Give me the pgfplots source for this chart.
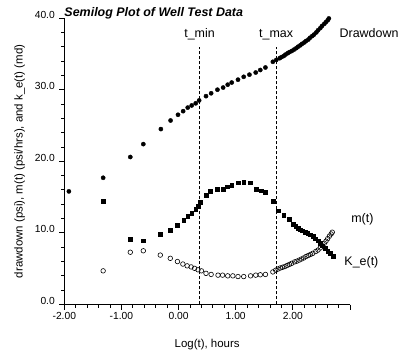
\documentclass[border=0pt]{standalone}
\usepackage{fontspec}
\setmainfont{Liberation Sans}
\usepackage{pgfplots}
\pgfplotsset{compat=1.18}
\begin{document}
\begin{tikzpicture}
\path[use as bounding box] (0,0) rectangle (403bp,356bp);
\begin{axis}[
  at={(64.3bp,51.5bp)}, anchor=south west,
  scale only axis, width=285.7bp, height=286.4bp,
  xmin=-2, xmax=3, ymin=0, ymax=40,
  axis x line*=bottom, axis y line*=left,
  axis line style={line width=1pt},
  xtick={-2,-1,0,1,2}, xticklabels={-2.00,-1.00,0.00,1.00,2.00},
  ytick={0,10,20,30,40}, yticklabels={0.0,10.0,20.0,30.0,40.0},
  major tick length=0pt, minor tick length=0pt,
  ticklabel style={font=\fontsize{10.3}{12}\selectfont},
  xticklabel style={yshift=-4bp},
  yticklabel style={anchor=base east, xshift=-6bp},
  clip=false,
  xlabel={Log(t), hours},
  ylabel={drawdown (psi), m(t) (psi/hrs), and k\_e(t) (md)},
  label style={font=\fontsize{11.5}{13}\selectfont},
  xlabel style={at={(axis description cs:0.5,0)}, anchor=base, yshift=-42.8bp},
  ylabel style={at={(axis description cs:-0.1463,0.5)}, anchor=base},
]
% tick marks
\pgfplotsinvokeforeach{-2,-1,0,1,2,3}{\draw[black, line width=0.9pt] (axis cs:#1,0) -- ++(0pt,-5.5bp);}
\pgfplotsinvokeforeach{-1.8,-1.6,-1.4,-1.2,-0.8,-0.6,-0.4,-0.2,0.2,0.4,0.6,0.8,1.2,1.4,1.6,1.8,2.2,2.4,2.6,2.8}{\draw[black, line width=0.9pt] (axis cs:#1,0) -- ++(0pt,-3.5bp);}
\pgfplotsinvokeforeach{0,10,20,30,40}{\draw[black, line width=0.9pt] (axis cs:-2,#1) -- ++(-5.5bp,0pt);}
\pgfplotsinvokeforeach{2,4,6,8,12,14,16,18,22,24,26,28,32,34,36,38}{\draw[black, line width=0.9pt] (axis cs:-2,#1) -- ++(-3.5bp,0pt);}
% dashed t_min / t_max lines
\addplot[black, dash pattern=on 3bp off 2bp, line width=0.6pt] coordinates {(0.367,0) (0.367,36)};
\addplot[black, dash pattern=on 3bp off 2bp, line width=0.6pt] coordinates {(1.708,0) (1.708,36)};
% Drawdown
\addplot[only marks, mark=*, mark size=2.1bp, black] coordinates {
(-1.92,15.8) (-1.32,17.7) (-0.845,20.6) (-0.617,22.4) (-0.31,24.5) (-0.14,25.7)
(-0.01,26.5) (0.08,27.0) (0.16,27.5) (0.23,27.8) (0.30,28.1) (0.36,28.5)
(0.48,29.1) (0.57,29.5) (0.68,30.0) (0.78,30.3) (0.86,30.7) (0.93,31.0)
(1.04,31.4) (1.14,31.8) (1.24,32.1) (1.35,32.4) (1.43,32.75) (1.52,33.1)
(1.65,33.9) (1.71,34.15) (1.77,34.4) (1.80,34.55) (1.84,34.7) (1.87,34.9)
(1.91,35.1) (1.94,35.25) (1.98,35.4) (2.02,35.6) (2.06,35.8) (2.09,36.0)
(2.13,36.2) (2.16,36.4) (2.20,36.6) (2.23,36.8) (2.27,37.0) (2.30,37.25)
(2.34,37.5) (2.37,37.7) (2.41,38.0) (2.44,38.3) (2.48,38.6) (2.51,38.9)
(2.55,39.2) (2.58,39.45) (2.61,39.7) (2.63,39.95)
};
% m(t)
\addplot[only marks, mark=square*, mark size=1.9bp, black] coordinates {
(-1.32,14.45) (-0.845,9.15) (-0.617,8.9) (-0.32,9.85) (-0.145,10.4) (-0.02,11.1)
(0.09,11.8) (0.16,12.35) (0.23,12.8) (0.30,13.3) (0.34,13.75) (0.385,14.3)
(0.48,15.3) (0.56,15.85) (0.68,16.1) (0.78,16.1) (0.845,16.45) (0.93,16.7)
(1.04,17.0) (1.14,17.1) (1.25,17.0) (1.36,16.1) (1.44,15.9) (1.52,15.7)
(1.66,14.4) (1.75,13.1) (1.84,12.5) (1.93,11.9) (2.01,11.25) (2.05,10.95)
(2.09,10.65) (2.13,10.45) (2.17,10.3) (2.21,10.1) (2.26,9.95) (2.30,9.75)
(2.35,9.5) (2.39,9.2) (2.44,8.9) (2.48,8.55) (2.52,8.2) (2.56,7.85)
(2.61,7.5) (2.65,7.15) (2.70,6.8)
};
% K_e(t)
\addplot[only marks, mark=o, mark size=2.3bp, black, mark options={line width=0.6pt}] coordinates {
(-1.32,4.7) (-0.845,7.3) (-0.617,7.5) (-0.32,6.9) (-0.145,6.45) (-0.02,6.0)
(0.075,5.65) (0.15,5.4) (0.22,5.25) (0.28,5.05) (0.34,4.85) (0.40,4.7)
(0.48,4.35) (0.57,4.2) (0.69,4.1) (0.77,4.1) (0.86,4.0) (0.95,4.0)
(1.04,3.9) (1.14,3.9) (1.26,4.0) (1.35,4.1) (1.43,4.15) (1.52,4.2)
(1.65,4.55) (1.70,4.8) (1.74,4.95) (1.78,5.1) (1.82,5.2) (1.86,5.3)
(1.90,5.45) (1.94,5.6) (1.98,5.75) (2.03,5.95) (2.07,6.05) (2.11,6.2)
(2.15,6.35) (2.19,6.5) (2.23,6.7) (2.27,6.85) (2.31,7.0) (2.35,7.15)
(2.40,7.4) (2.44,7.6) (2.48,7.9) (2.52,8.2) (2.55,8.55) (2.58,8.85)
(2.61,9.2) (2.64,9.55) (2.67,9.85) (2.69,10.1)
};
% annotations
\node[anchor=base west, inner sep=0pt, font=\fontsize{12.5}{14}\selectfont\bfseries\itshape]
  at (rel axis cs:0,1) [yshift=2bp] {Semilog Plot of Well Test Data};
\node[anchor=base, inner sep=0pt, font=\fontsize{12.5}{14}\selectfont] at (axis cs:0.367,37.3) {t\_min};
\node[anchor=base, inner sep=0pt, font=\fontsize{12.5}{14}\selectfont] at (axis cs:1.708,37.3) {t\_max};
\node[anchor=base west, inner sep=0pt, font=\fontsize{12.5}{14}\selectfont] at (axis cs:2.815,37.3) {Drawdown};
\node[anchor=base west, inner sep=0pt, font=\fontsize{12.5}{14}\selectfont] at (axis cs:3.02,11.4) {m(t)};
\node[anchor=base west, inner sep=0pt, font=\fontsize{12.5}{14}\selectfont] at (axis cs:2.90,5.4) {K\_e(t)};
\end{axis}
\end{tikzpicture}
\end{document}
